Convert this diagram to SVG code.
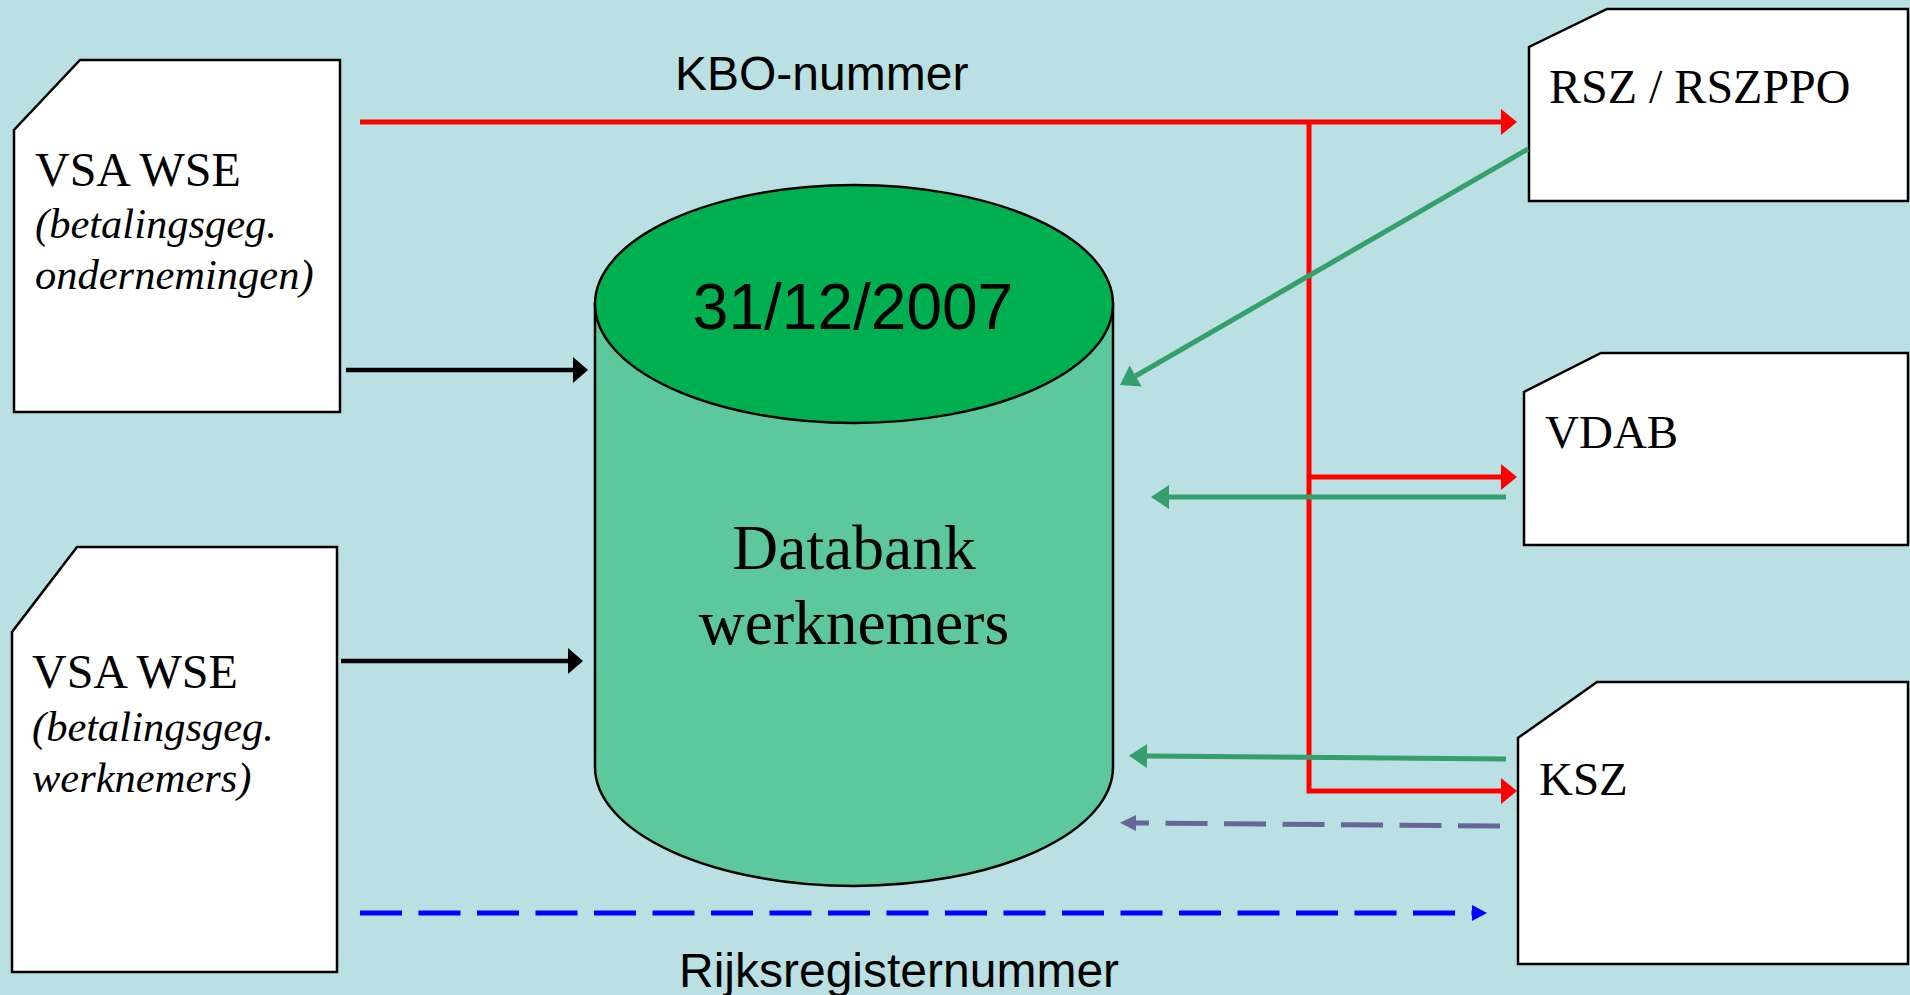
<svg xmlns="http://www.w3.org/2000/svg" width="1910" height="995" viewBox="0 0 1910 995">
<style>
.doc{fill:#FFFFFF;stroke:#000000;stroke-width:2.5;stroke-linejoin:miter}
.lbl{font-family:"Liberation Serif","Times New Roman",serif;fill:#000000}
.it{font-style:italic;font-size:42.5px}
.sans{font-family:"Liberation Sans",Arial,sans-serif;fill:#000000}
.red{fill:none;stroke:#FF0000;stroke-width:5}
.grn{fill:none;stroke:#35A06B;stroke-width:5}
.blk{fill:none;stroke:#000000;stroke-width:4.5}
.pur{fill:none;stroke:#666699;stroke-width:5;stroke-dasharray:42 16.5}
.blu{fill:none;stroke:#0000FF;stroke-width:5;stroke-dasharray:42 16.5}
</style>
<defs>
<marker id="mRed" markerUnits="userSpaceOnUse" markerWidth="20" markerHeight="30" refX="0" refY="13" orient="auto" overflow="visible"><path d="M0,0 L16,13 L0,26 Z" fill="#FF0000"/></marker>
<marker id="mBlk" markerUnits="userSpaceOnUse" markerWidth="20" markerHeight="30" refX="0" refY="13" orient="auto" overflow="visible"><path d="M0,0 L15,13 L0,26 Z" fill="#000000"/></marker>
<marker id="mGrn" markerUnits="userSpaceOnUse" markerWidth="24" markerHeight="30" refX="0" refY="12" orient="auto" overflow="visible"><path d="M0,0 L18,12 L0,24 Z" fill="#35A06B"/></marker>
<marker id="mPur" markerUnits="userSpaceOnUse" markerWidth="20" markerHeight="20" refX="0" refY="8" orient="auto" overflow="visible"><path d="M0,0 L16,8 L0,16 Z" fill="#666699"/></marker>
<marker id="mBlu" markerUnits="userSpaceOnUse" markerWidth="20" markerHeight="20" refX="0" refY="8" orient="auto" overflow="visible"><path d="M0,0 L15,8 L0,16 Z" fill="#0000FF"/></marker>
</defs>
<rect x="0" y="0" width="1910" height="995" fill="#BAE0E3"/>

<g id="vsa-ondernemingen">
<polygon class="doc" points="80,60 340,60 340,412 14,412 14,130"/>
<text class="lbl" x="35" y="186" font-size="48">VSA WSE</text>
<text class="lbl it" x="35" y="238">(betalingsgeg.</text>
<text class="lbl it" x="35" y="289">ondernemingen)</text>
</g>

<g id="vsa-werknemers">
<polygon class="doc" points="77,547 337,547 337,972 12,972 12,632"/>
<text class="lbl" x="32" y="688" font-size="48">VSA WSE</text>
<text class="lbl it" x="32" y="741">(betalingsgeg.</text>
<text class="lbl it" x="32" y="792">werknemers)</text>
</g>

<g id="rsz">
<polygon class="doc" points="1607,9 1908,9 1908,201 1529,201 1529,47"/>
<text class="lbl" x="1549" y="103" font-size="48">RSZ / RSZPPO</text>
</g>

<g id="vdab">
<polygon class="doc" points="1601,353 1908,353 1908,545 1524,545 1524,392"/>
<text class="lbl" x="1545" y="448" font-size="47">VDAB</text>
</g>

<g id="ksz">
<polygon class="doc" points="1597,682 1908,682 1908,964 1518,964 1518,738"/>
<text class="lbl" x="1539" y="795" font-size="47">KSZ</text>
</g>

<g id="databank">
<path d="M595,304 V767 A259,119 0 0 0 1113,767 V304 Z" fill="#5CC89B" stroke="#000000" stroke-width="2.5"/>
<ellipse cx="854" cy="304" rx="259" ry="119" fill="#00B050" stroke="#000000" stroke-width="2.5"/>
<text class="sans" x="853" y="329" font-size="64" text-anchor="middle">31/12/2007</text>
<text class="lbl" x="854" y="569" font-size="63.5" text-anchor="middle">Databank</text>
<text class="lbl" x="854" y="644" font-size="63.5" text-anchor="middle">werknemers</text>
</g>

<g id="connectors">
<path class="red" d="M360,122 H1501" marker-end="url(#mRed)"/>
<path class="red" d="M1309,122 V791 H1501" marker-end="url(#mRed)"/>
<path class="red" d="M1309,477 H1501" marker-end="url(#mRed)"/>
<path class="grn" d="M1528,149 L1135.6,376" marker-end="url(#mGrn)"/>
<path class="grn" d="M1506,497 L1169,497" marker-end="url(#mGrn)"/>
<path class="grn" d="M1506,759 L1147,756" marker-end="url(#mGrn)"/>
<path class="pur" d="M1500,826 L1136,823" marker-end="url(#mPur)"/>
<path class="blu" d="M360,913 L1472,913" marker-end="url(#mBlu)"/>
<path class="blk" d="M346,370 L573,370" marker-end="url(#mBlk)"/>
<path class="blk" d="M341,661 L568,661" marker-end="url(#mBlk)"/>
<text class="sans" x="675" y="90" font-size="48">KBO-nummer</text>
<text class="sans" x="679" y="987" font-size="48">Rijksregisternummer</text>
</g>
</svg>
